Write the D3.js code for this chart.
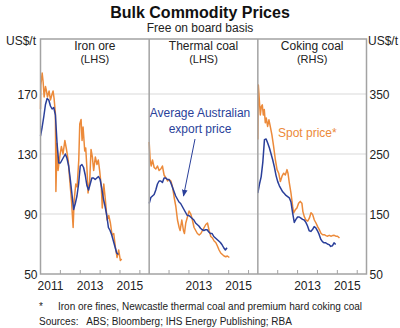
<!DOCTYPE html>
<html>
<head>
<meta charset="utf-8">
<script src="https://cdn.jsdelivr.net/npm/d3@7"></script>
<style>
  body { margin: 0; background: #fff; }
  svg { font-family: Arial, "Liberation Sans", sans-serif; }
</style>
</head>
<body>
<div id="chart"></div>
<script>
// months counted from Jan 2011
const panelNames = ['Iron ore', 'Thermal coal', 'Coking coal'];
const panelSides = ['(LHS)', '(LHS)', '(RHS)'];
const yearLabels = [[2011, 2013, 2015], [2013, 2015], [2013, 2015]];
const leftTicks = [50, 90, 130, 170];
const rightTicks = [50, 150, 250, 350];

// Average Australian export price, monthly Jan 2011 - Dec 2014
const ironExport = [142, 148, 155, 163, 167, 166, 162, 160, 161, 156, 137, 124,
  124, 126, 128, 130, 127, 122, 113, 103, 93, 97, 102, 110,
  122, 123, 121, 116, 109, 106, 110, 114, 114, 113, 114, 115,
  113, 107, 100, 95, 89, 81, 79, 76, 72, 68, 64, 63];
const thermalExport = [97, 101, 102, 103, 106, 110, 112, 112, 111, 114, 114, 113,
  113, 111, 108, 105, 102, 100, 98, 97, 95, 93, 91, 89,
  89, 88, 87, 86, 84, 83, 82, 80.5, 79.5, 79, 79.5, 79.5,
  78, 77, 77, 75, 74, 73, 72, 71, 69.5, 67.5, 66, 67.5];
const cokingExport = [185, 200, 212, 236, 274, 275, 268, 260, 250, 240, 228, 214,
  204, 197, 192, 187, 184, 181, 179, 177, 170, 152, 136, 141,
  145, 145, 143, 141, 140, 136, 130, 122, 121, 124, 129, 127,
  122, 116, 108, 104, 102, 102, 100, 99, 96, 97, 102, 99];

// Spot prices: [month, US$/t]
const ironSpot = [[0, 160], [0.2, 176], [1, 184], [1.6, 178], [2.2, 168], [3, 175], [3.6, 172],
  [4.2, 168], [5.2, 172], [6, 166], [7, 170], [7.6, 172], [8.2, 167], [9, 157], [9.3, 105],
  [10, 137], [10.6, 119], [11.6, 128], [12.6, 135], [13.6, 130], [14.7, 139], [15.7, 133],
  [16.7, 126], [17.7, 112], [18.7, 99], [19.7, 81], [20.3, 99], [21.3, 110], [22.1, 108],
  [23.1, 126], [23.7, 150], [24.5, 153], [25.1, 139], [25.7, 148], [26.7, 132], [27.3, 134],
  [28.1, 119], [28.7, 104], [29.7, 112], [30.5, 133], [31.3, 128], [32.1, 119], [33.1, 128],
  [34.1, 123], [34.9, 126], [35.7, 119], [36.7, 108], [37.3, 94], [38.2, 110], [39.2, 99],
  [40.2, 86], [41.2, 89], [42.2, 84], [43.2, 76], [44.2, 77], [45.2, 68], [46.2, 61],
  [47.2, 66], [48.2, 59], [49, 60]];
const thermalSpot = [[0, 138], [0.6, 126], [1.2, 122], [2, 126], [3, 121], [4, 120], [5, 122],
  [6, 119], [7, 120], [8, 122], [9, 116], [10.1, 114], [11.1, 112], [12.1, 113], [13.1, 112],
  [14.1, 108], [15.1, 101], [16.1, 95], [17.1, 86], [18.1, 81], [18.7, 79], [19.7, 86],
  [20.7, 79], [21.3, 77], [22.1, 84], [23.1, 88], [24.1, 92], [25.1, 90], [26.1, 86],
  [27.1, 81], [28.1, 79], [29.1, 77], [30.2, 76], [31.2, 77], [32.2, 79], [33.2, 81],
  [34.2, 83], [35.2, 84], [36.2, 79], [37.2, 75], [38.2, 74], [39.2, 72], [40.2, 71],
  [41.2, 68.7], [42.2, 66], [43.2, 64], [44.2, 63], [45.2, 62], [46.2, 61.5], [47.2, 62], [48.4, 61]];
const cokingSpot = [[0, 274], [0.3, 365], [0.9, 340], [1.5, 315], [2.1, 329], [2.7, 332], [3.3, 315],
  [3.9, 324], [4.5, 302], [5.1, 310], [5.9, 296], [6.7, 307], [7.5, 296], [8.5, 282], [9.5, 263],
  [10.6, 240], [11.6, 224], [12.6, 218], [13.6, 204], [14.6, 213], [15.6, 218], [16.6, 215],
  [17.6, 224], [18.2, 218], [19, 202], [20, 185], [21, 163], [21.6, 152], [22.6, 157],
  [23.6, 160], [24.6, 168], [25.6, 171], [26.6, 168], [27.2, 154], [28, 146], [29, 140],
  [30.1, 138], [31.1, 143], [32.1, 152], [33.1, 149], [34.1, 140], [35.1, 135], [36.1, 129],
  [37.1, 124], [38.1, 118], [39.1, 115.5], [40.1, 115.5], [41.1, 114], [42.1, 113], [43.1, 114.5],
  [44.1, 113], [45.1, 114], [46.1, 114.5], [47.1, 113], [48.1, 113], [49.3, 110]];

const exportSeries = [ironExport, thermalExport, cokingExport];
const spotSeries = [ironSpot, thermalSpot, cokingSpot];

const width = 400, height = 328;
const plotLeft = 40.5, plotRight = 366.5, plotTop = 39, plotBottom = 274;
const panelW = (plotRight - plotLeft) / 3;
const orange = '#EC8A3A', blue = '#2A3F9A', frame = '#a3a3a3';

const svg = d3.select('#chart').append('svg')
    .attr('width', width)
    .attr('height', height);

svg.append('defs').append('marker')
    .attr('id', 'arrow')
    .attr('viewBox', '0 0 10 10')
    .attr('refX', 9).attr('refY', 5)
    .attr('markerWidth', 7).attr('markerHeight', 7)
    .attr('orient', 'auto')
    .append('path')
    .attr('d', 'M0,1L10,5L0,9Z')
    .attr('fill', blue);

const yLeft = d3.scaleLinear().domain([50, 170]).range([plotBottom, 94]);
const yRight = d3.scaleLinear().domain([50, 350]).range([plotBottom, 94]);

// gridlines across the whole width
svg.append('g')
    .selectAll('line')
    .data(leftTicks.slice(1))
    .join('line')
    .attr('x1', plotLeft).attr('x2', plotRight)
    .attr('y1', d => yLeft(d)).attr('y2', d => yLeft(d))
    .style('stroke', '#d9d9d9')
    .style('stroke-width', 1.2);

panelNames.forEach((name, p) => {
    const x0 = plotLeft + p * panelW;
    const x = d3.scaleLinear().domain([0, 65.6]).range([x0, x0 + panelW]);
    const y = p === 2 ? yRight : yLeft;
    const g = svg.append('g');

    // year ticks pointing up
    g.selectAll('line.tick')
        .data([12, 24, 36, 48, 60])
        .join('line')
        .attr('class', 'tick')
        .attr('x1', d => x(d)).attr('x2', d => x(d))
        .attr('y1', plotBottom).attr('y2', plotBottom - 4)
        .style('stroke', frame)
        .style('stroke-width', 1);

    g.selectAll('text.year')
        .data(yearLabels[p])
        .join('text')
        .attr('class', 'year')
        .attr('x', d => x((d - 2011) * 12 + 6))
        .attr('y', plotBottom + 16)
        .attr('text-anchor', 'middle')
        .style('font-size', '12px')
        .style('fill', '#222')
        .text(d => d);

    const line = d3.line()
        .x(d => x(d[0]))
        .y(d => y(d[1]));

    g.append('path')
        .datum(spotSeries[p])
        .attr('d', line)
        .style('fill', 'none')
        .style('stroke', orange)
        .style('stroke-width', 1.5)
        .style('stroke-linejoin', 'round');

    g.append('path')
        .datum(exportSeries[p].map((v, i) => [i, v]))
        .attr('d', line)
        .style('fill', 'none')
        .style('stroke', blue)
        .style('stroke-width', 1.5)
        .style('stroke-linejoin', 'round');

    g.append('text')
        .attr('x', x0 + panelW / 2)
        .attr('y', 50)
        .attr('text-anchor', 'middle')
        .style('font-size', '12px')
        .style('fill', '#222')
        .text(name);
    g.append('text')
        .attr('x', x0 + panelW / 2)
        .attr('y', 63)
        .attr('text-anchor', 'middle')
        .style('font-size', '11px')
        .style('fill', '#222')
        .text(panelSides[p]);

    if (p > 0) {
        svg.append('line')
            .attr('x1', x0).attr('x2', x0)
            .attr('y1', plotTop).attr('y2', plotBottom)
            .style('stroke', frame)
            .style('stroke-width', 1.5);
    }
});

// frame
svg.append('rect')
    .attr('x', plotLeft).attr('y', plotTop)
    .attr('width', plotRight - plotLeft).attr('height', plotBottom - plotTop)
    .style('fill', 'none')
    .style('stroke', frame)
    .style('stroke-width', 1.5);

// axis labels
svg.append('g').selectAll('text')
    .data(leftTicks)
    .join('text')
    .attr('x', plotLeft - 3)
    .attr('y', d => yLeft(d) + 4.5)
    .attr('text-anchor', 'end')
    .style('font-size', '12px')
    .style('fill', '#222')
    .text(d => d);

svg.append('g').selectAll('text')
    .data(rightTicks)
    .join('text')
    .attr('x', plotRight + 3)
    .attr('y', d => yRight(d) + 4.5)
    .style('font-size', '12px')
    .style('fill', '#222')
    .text(d => d);

svg.append('text').attr('x', 6).attr('y', 45)
    .style('font-size', '12px').style('fill', '#222').text('US$/t');
svg.append('text').attr('x', 368).attr('y', 45)
    .style('font-size', '12px').style('fill', '#222').text('US$/t');

// titles
svg.append('text')
    .attr('x', 200).attr('y', 18)
    .attr('text-anchor', 'middle')
    .style('font-size', '16px')
    .style('font-weight', 'bold')
    .style('fill', '#111')
    .text('Bulk Commodity Prices');
svg.append('text')
    .attr('x', 200).attr('y', 32)
    .attr('text-anchor', 'middle')
    .style('font-size', '12px')
    .style('fill', '#222')
    .text('Free on board basis');

// annotations
const note = svg.append('text')
    .attr('text-anchor', 'middle')
    .style('font-size', '12px')
    .style('fill', blue);
note.append('tspan').attr('x', 200).attr('y', 117).text('Average Australian');
note.append('tspan').attr('x', 200).attr('y', 133).text('export price');

svg.append('line')
    .attr('x1', 195).attr('y1', 139)
    .attr('x2', 183.5).attr('y2', 196)
    .attr('marker-end', 'url(#arrow)')
    .style('stroke', blue)
    .style('stroke-width', 1);

svg.append('text')
    .attr('x', 278).attr('y', 137)
    .style('font-size', '12px')
    .style('fill', orange)
    .text('Spot price*');

// footnotes
svg.append('text').attr('x', 39).attr('y', 310)
    .style('font-size', '10px').style('fill', '#222').text('*');
svg.append('text').attr('x', 58).attr('y', 310)
    .style('font-size', '10px').style('fill', '#222')
    .text('Iron ore fines, Newcastle thermal coal and premium hard coking coal');
svg.append('text').attr('x', 39).attr('y', 325)
    .style('font-size', '10px').style('fill', '#222')
    .attr('xml:space', 'preserve')
    .text('Sources:   ABS; Bloomberg; IHS Energy Publishing; RBA');
</script>
</body>
</html>
